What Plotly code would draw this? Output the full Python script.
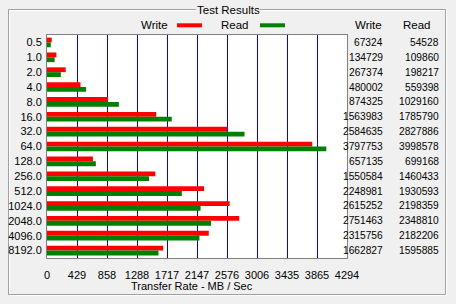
import plotly.graph_objects as go

categories = ["0.5", "1.0", "2.0", "4.0", "8.0", "16.0", "32.0", "64.0", "128.0",
              "256.0", "512.0", "1024.0", "2048.0", "4096.0", "8192.0"]
write_kb = [67324, 134729, 267374, 480002, 874325, 1563983, 2584635, 3797753, 657135,
            1550584, 2248981, 2615252, 2751463, 2315756, 1662827]
read_kb = [54528, 109860, 198217, 559398, 1029160, 1785790, 2827886, 3998578, 699168,
           1460433, 1930593, 2198359, 2348810, 2182206, 1595885]
axis_max = 4294.967296
tick_vals = [axis_max * i / 10 for i in range(11)]
tick_text = ["0", "429", "858", "1288", "1717", "2147", "2576", "3006", "3435", "3865", "4294"]

W, H = 456, 304
L, R, T, B = 47, 347, 35, 258  # plot area pixels
PW, PH = R - L, B - T

def px(x):
    return (x - L) / PW

def py(y):
    return 1 - (y - T) / PH

FONT = "Liberation Sans, Arial, sans-serif"
BG = "#F0F0F0"

fig = go.Figure()
fig.add_trace(go.Bar(y=categories, x=[v / 1000 for v in write_kb], orientation="h",
                     name="Write", marker=dict(color="#FF0000", line=dict(width=0))))
fig.add_trace(go.Bar(y=categories, x=[v / 1000 for v in read_kb], orientation="h",
                     name="Read", marker=dict(color="#008000", line=dict(width=0))))

shapes = []
annotations = []
# group box (etched)
gx0, gy0, gx1, gy1 = 8.5, 9.5, 445.5, 294.5
for off, col in ((1, "#FFFFFF"), (0, "#A0A0A0")):
    shapes.append(dict(type="rect", xref="paper", yref="paper",
                       x0=px(gx0 + off), x1=px(gx1 + off), y0=py(gy0 + off), y1=py(gy1 + off),
                       line=dict(color=col, width=1), fillcolor="rgba(0,0,0,0)", layer="below"))
# break for the title
shapes.append(dict(type="rect", xref="paper", yref="paper", x0=px(196), x1=px(260),
                   y0=py(12), y1=py(6), line=dict(width=0), fillcolor=BG, layer="below"))
annotations.append(dict(text="Test Results", xref="paper", yref="paper", x=px(228), y=py(9.5),
                        xanchor="center", yanchor="middle", showarrow=False,
                        font=dict(family=FONT, size=11.5, color="black")))
# legend
for label, col, tx_right, sw0 in (("Write", "#FF0000", 170, 177), ("Read", "#008000", 251, 260)):
    annotations.append(dict(text=label, xref="paper", yref="paper", x=px(tx_right), y=py(25),
                            xanchor="right", yanchor="middle", showarrow=False,
                            font=dict(family=FONT, size=11.5, color="black")))
    shapes.append(dict(type="rect", xref="paper", yref="paper", x0=px(sw0), x1=px(sw0 + 25),
                       y0=py(27.3), y1=py(23.3), line=dict(width=0), fillcolor=col))
# column headers
for label, cx in (("Write", 368.5), ("Read", 417)):
    annotations.append(dict(text=label, xref="paper", yref="paper", x=px(cx), y=py(25),
                            xanchor="center", yanchor="middle", showarrow=False,
                            font=dict(family=FONT, size=11.5, color="black")))
# right columns
for i, (w, r) in enumerate(zip(write_kb, read_kb)):
    for val, xr in ((w, 385), (r, 440.5)):
        annotations.append(dict(text=str(val), xref="paper", yref="y", x=px(xr), y=i,
                                xanchor="right", yanchor="middle", showarrow=False,
                                font=dict(family=FONT, size=10.2, color="black")))
# x axis title
annotations.append(dict(text="Transfer Rate - MB / Sec", xref="paper", yref="paper",
                        x=px(192), y=py(285.5), xanchor="center", yanchor="middle",
                        showarrow=False, font=dict(family=FONT, size=11, color="black")))

fig.update_layout(
    width=W, height=H,
    margin=dict(l=L, r=W - R, t=T, b=H - B, pad=0, autoexpand=False),
    paper_bgcolor=BG, plot_bgcolor="#FFFFFF",
    barmode="group", bargap=0.35, bargroupgap=0,
    showlegend=False,
    shapes=shapes, annotations=annotations,
    font=dict(family=FONT, size=11, color="black"),
    xaxis=dict(range=[0, axis_max], tickmode="array", tickvals=tick_vals, ticktext=tick_text,
               showgrid=True, gridcolor="#0000FF", gridwidth=1, zeroline=False,
               showline=True, linecolor="#808080", linewidth=1, mirror=True,
               ticks="outside", ticklen=7, tickcolor="rgba(0,0,0,0)", automargin=False,
               tickfont=dict(family=FONT, size=11, color="black"), fixedrange=True),
    yaxis=dict(type="category", categoryorder="array", categoryarray=categories,
               range=[len(categories) - 0.5, -0.5], autorange=False, automargin=False,
               showgrid=False, zeroline=False,
               showline=True, linecolor="#808080", linewidth=1, mirror=True,
               ticks="outside", ticklen=2, tickcolor="rgba(0,0,0,0)",
               tickfont=dict(family=FONT, size=11, color="black"), fixedrange=True),
)

fig.write_html("out.html")
